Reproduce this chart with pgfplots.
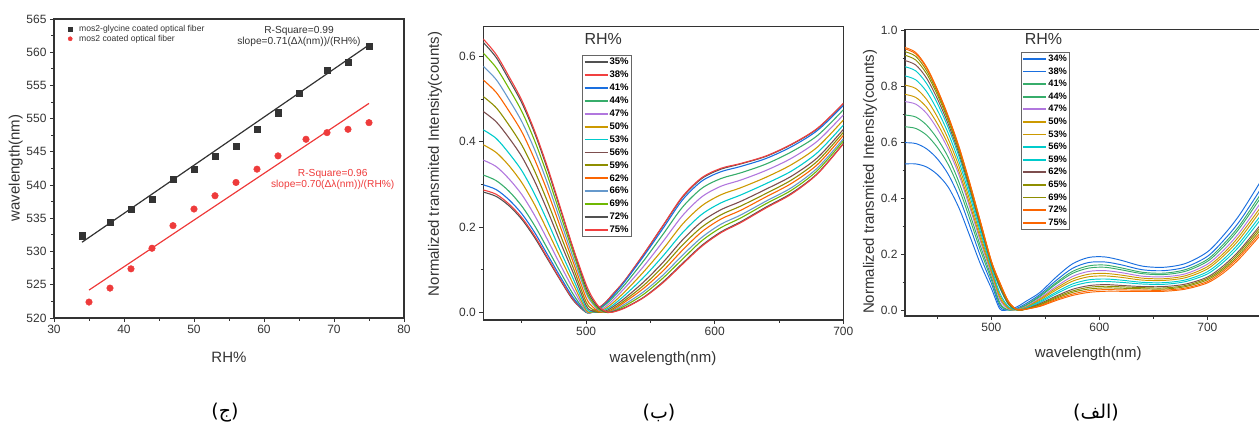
\documentclass[border=0pt]{standalone}
\usepackage{fontspec}
\setmainfont{Liberation Sans}
\newfontfamily\arabicfont[Script=Arabic]{DejaVu Sans}
\TeXXeTstate=1
\usepackage{pgfplots}
\usepackage{pgfplotstable}
\pgfplotsset{compat=1.18}

\definecolor{cgray}{HTML}{515151}
\definecolor{cred}{HTML}{F14040}
\definecolor{cblue}{HTML}{1A6FDF}
\definecolor{cgreen}{HTML}{37AD6B}
\definecolor{cviolet}{HTML}{B177DE}
\definecolor{cgold}{HTML}{CC9900}
\definecolor{ccyan}{HTML}{00CBCC}
\definecolor{cbrown}{HTML}{7D4E4E}
\definecolor{colive}{HTML}{8E8E00}
\definecolor{corange}{HTML}{FB6501}
\definecolor{clblue}{HTML}{6699CC}
\definecolor{clime}{HTML}{6FB802}
\definecolor{axgray}{HTML}{333333}
\definecolor{dotred}{HTML}{EE3B3B}

% middle panel: spectra 35% ... 75%
\pgfplotstableread{
x c0 c1 c2 c3 c4 c5 c6 c7 c8 c9 c10 c11 c12 c13
420 0.282 0.287 0.299 0.322 0.357 0.393 0.428 0.471 0.506 0.545 0.577 0.608 0.633 0.641
430 0.272 0.277 0.288 0.309 0.342 0.375 0.408 0.447 0.480 0.516 0.546 0.574 0.598 0.605
440 0.250 0.254 0.264 0.284 0.313 0.344 0.373 0.409 0.439 0.472 0.499 0.525 0.546 0.553
450 0.218 0.222 0.231 0.249 0.276 0.304 0.332 0.365 0.392 0.423 0.447 0.471 0.491 0.497
460 0.175 0.179 0.187 0.203 0.227 0.252 0.277 0.307 0.331 0.358 0.381 0.402 0.420 0.425
470 0.125 0.128 0.135 0.149 0.170 0.191 0.213 0.238 0.259 0.283 0.302 0.320 0.335 0.340
480 0.075 0.077 0.083 0.094 0.111 0.128 0.144 0.164 0.181 0.200 0.215 0.229 0.241 0.245
490 0.028 0.030 0.034 0.042 0.054 0.066 0.078 0.092 0.104 0.117 0.128 0.139 0.147 0.150
500 0.000 0.000 0.000 0.000 0.002 0.005 0.010 0.016 0.024 0.034 0.045 0.051 0.058 0.065
505 0.003 0.003 0.002 0.001 0.000 0.000 0.001 0.003 0.007 0.013 0.020 0.024 0.029 0.034
510 0.011 0.011 0.009 0.007 0.004 0.002 0.001 0.000 0.000 0.002 0.005 0.007 0.010 0.013
515 0.023 0.023 0.020 0.018 0.013 0.009 0.006 0.003 0.001 0.000 0.000 0.000 0.001 0.002
520 0.040 0.040 0.036 0.032 0.026 0.020 0.015 0.011 0.007 0.004 0.002 0.001 0.001 0.000
530 0.074 0.075 0.072 0.065 0.057 0.048 0.040 0.033 0.028 0.024 0.019 0.015 0.011 0.010
545 0.137 0.138 0.133 0.122 0.109 0.096 0.083 0.072 0.064 0.057 0.049 0.043 0.036 0.035
560 0.204 0.205 0.198 0.184 0.167 0.149 0.133 0.118 0.108 0.098 0.088 0.081 0.072 0.070
575 0.270 0.272 0.264 0.247 0.227 0.207 0.187 0.170 0.158 0.146 0.134 0.125 0.115 0.113
590 0.314 0.316 0.308 0.291 0.271 0.250 0.230 0.213 0.200 0.189 0.176 0.168 0.157 0.155
605 0.336 0.338 0.330 0.314 0.296 0.276 0.257 0.241 0.229 0.219 0.207 0.199 0.189 0.187
620 0.348 0.349 0.342 0.327 0.310 0.292 0.275 0.260 0.249 0.239 0.228 0.221 0.212 0.210
640 0.366 0.367 0.361 0.348 0.333 0.317 0.302 0.289 0.279 0.271 0.261 0.255 0.247 0.245
660 0.394 0.395 0.389 0.377 0.362 0.347 0.332 0.320 0.311 0.303 0.293 0.287 0.280 0.278
680 0.431 0.432 0.427 0.415 0.402 0.388 0.375 0.363 0.355 0.347 0.339 0.333 0.326 0.325
700 0.489 0.490 0.485 0.475 0.463 0.451 0.439 0.429 0.422 0.415 0.407 0.402 0.396 0.395
}\tabB

% right panel: spectra 34% ... 75%
\pgfplotstableread{
x c0 c1 c2 c3 c4 c5 c6 c7 c8 c9 c10 c11 c12 c13
420 0.523 0.599 0.656 0.698 0.746 0.772 0.805 0.838 0.871 0.893 0.912 0.925 0.935 0.940
430 0.523 0.596 0.650 0.691 0.737 0.761 0.793 0.824 0.856 0.877 0.895 0.908 0.917 0.922
440 0.512 0.577 0.626 0.662 0.704 0.726 0.754 0.782 0.811 0.830 0.846 0.857 0.866 0.870
450 0.485 0.541 0.582 0.613 0.648 0.667 0.691 0.715 0.740 0.756 0.770 0.779 0.786 0.790
460 0.440 0.486 0.521 0.547 0.576 0.592 0.612 0.633 0.653 0.666 0.678 0.686 0.692 0.695
470 0.365 0.405 0.435 0.457 0.483 0.496 0.514 0.531 0.549 0.560 0.570 0.577 0.582 0.585
480 0.265 0.300 0.326 0.345 0.367 0.378 0.393 0.409 0.424 0.434 0.442 0.448 0.453 0.455
490 0.163 0.191 0.212 0.227 0.244 0.254 0.266 0.278 0.290 0.298 0.305 0.310 0.313 0.315
500 0.077 0.095 0.108 0.118 0.129 0.136 0.143 0.151 0.159 0.164 0.168 0.172 0.174 0.175
508 0.003 0.011 0.019 0.024 0.036 0.043 0.051 0.059 0.077 0.080 0.087 0.090 0.095 0.097
516 0.002 0.000 0.000 0.000 0.003 0.005 0.008 0.011 0.019 0.020 0.024 0.025 0.029 0.030
524 0.012 0.007 0.004 0.003 0.002 0.001 0.001 0.000 0.000 0.000 0.000 0.000 0.001 0.001
532 0.031 0.023 0.018 0.016 0.012 0.010 0.008 0.007 0.004 0.004 0.003 0.003 0.003 0.003
545 0.063 0.056 0.051 0.048 0.043 0.039 0.035 0.031 0.027 0.023 0.020 0.018 0.015 0.013
560 0.118 0.106 0.098 0.093 0.084 0.078 0.072 0.064 0.058 0.050 0.046 0.042 0.038 0.034
575 0.165 0.149 0.138 0.131 0.120 0.111 0.103 0.093 0.085 0.074 0.068 0.063 0.057 0.052
590 0.188 0.170 0.158 0.150 0.138 0.128 0.119 0.108 0.099 0.087 0.081 0.075 0.069 0.063
605 0.190 0.172 0.161 0.153 0.141 0.131 0.122 0.111 0.102 0.091 0.085 0.079 0.073 0.067
620 0.178 0.162 0.151 0.144 0.134 0.125 0.117 0.107 0.099 0.088 0.083 0.078 0.072 0.067
640 0.157 0.144 0.135 0.130 0.121 0.114 0.107 0.099 0.093 0.084 0.080 0.076 0.071 0.067
660 0.153 0.141 0.132 0.127 0.119 0.112 0.106 0.098 0.092 0.084 0.079 0.075 0.071 0.067
680 0.167 0.154 0.145 0.139 0.130 0.123 0.116 0.108 0.102 0.093 0.088 0.084 0.079 0.075
700 0.208 0.192 0.181 0.174 0.164 0.155 0.147 0.137 0.129 0.118 0.113 0.108 0.102 0.097
715 0.268 0.249 0.236 0.227 0.214 0.203 0.194 0.182 0.172 0.159 0.152 0.146 0.140 0.133
730 0.342 0.319 0.304 0.294 0.279 0.267 0.255 0.242 0.230 0.215 0.208 0.200 0.193 0.185
750 0.465 0.437 0.419 0.406 0.388 0.372 0.359 0.342 0.328 0.309 0.300 0.291 0.281 0.272
}\tabA

\pgfplotsset{
  origin/.style={
    scale only axis, anchor=south west,
    axis line style={axgray, line width=1.1pt},
    tick style={axgray, line width=0.9pt},
    tick align=outside, tick pos=left,
    major tick length=4pt, minor tick length=2.5pt,
    tick label style={font=\fontsize{12}{14}\selectfont, text=axgray},
    /pgf/number format/assume math mode=true,
    label style={font=\fontsize{15}{17}\selectfont, text=axgray},
  },
  spec/.style={smooth, line width=1.1pt},
  speclegend/.style={
    legend cell align=left,
    legend image code/.code={\draw[##1, line width=1.8pt] (0pt,0pt) -- (23pt,0pt);},
    legend style={anchor=north west, draw=gray!80!black, line width=0.8pt,
      fill=white, inner sep=1.5pt, row sep=2.4pt,
      font=\fontsize{9.5}{11}\selectfont\bfseries,
      nodes={inner sep=1pt, text height=7pt, text depth=1.5pt}},
  },
}

\begin{document}
\begin{tikzpicture}

% ---- left panel (ج)
\begin{axis}[origin, at={(54pt,111pt)}, width=350pt, height=299pt,
  xmin=30, xmax=80, ymin=520, ymax=565,
  xtick={30,40,...,80}, minor xtick={35,45,...,75},
  ytick={520,525,...,565}, minor ytick={522.5,527.5,...,562.5},
  xlabel={RH\%}, ylabel={wavelength(nm)},
  xlabel style={at={(axis description cs:0.5,-0.13)}, anchor=center},
  ylabel style={at={(axis description cs:-0.109,0.502)}, anchor=center},
  legend cell align=left,
  legend image code/.code={\path[draw=none] (0pt,0pt) -- (14pt,0pt);
    \draw[#1, only marks, mark size=2.1pt] plot coordinates {(6pt,0pt)};},
  legend style={at={(0.02,0.99)}, anchor=north west, draw=none, fill=none,
    font=\fontsize{8.6}{10}\selectfont, text=axgray, row sep=0pt,
    nodes={inner sep=1pt}},
]
\addplot[axgray, line width=1.2pt, forget plot] coordinates {(34,531.4) (75,561.1)};
\addplot[dotred, line width=1.2pt, forget plot] coordinates {(35,524.2) (75,552.3)};
\addplot[only marks, mark=square*, mark size=3.1pt, color=axgray] coordinates {
  (34,532.4) (38,534.4) (41,536.4) (44,537.9) (47,540.9) (50,542.4) (53,544.4)
  (56,545.9) (59,548.4) (62,550.9) (65,553.8) (69,557.3) (72,558.5) (75,560.9)};
\addlegendentry{mos2-glycine coated optical fiber}
\addplot[only marks, mark=*, mark size=3.3pt, color=dotred] coordinates {
  (35,522.4) (38,524.5) (41,527.4) (44,530.5) (47,533.9) (50,536.4) (53,538.4)
  (56,540.4) (59,542.4) (62,544.4) (66,546.9) (69,547.9) (72,548.4) (75,549.4)};
\addlegendentry{mos2 coated optical fiber}
\end{axis}
\node[font=\fontsize{10.2}{12}\selectfont, text=axgray, align=center] at (299pt,393pt)
  {R-Square=0.99\\[-1pt]slope=0.71(Δλ(nm))/(RH\%)};
\node[font=\fontsize{10.2}{12}\selectfont, text=dotred, align=center] at (332.7pt,249.3pt)
  {R-Square=0.96\\[-1pt]slope=0.70(Δλ(nm))/(RH\%)};

% ---- middle panel (ب)
\begin{axis}[origin, speclegend, at={(483.3pt,109pt)}, width=360pt, height=293.3pt,
  xmin=420, xmax=700, ymin=-0.018, ymax=0.670,
  xtick={500,600,700}, minor xtick={450,550,650},
  ytick={0,0.2,0.4,0.6}, minor ytick={0.1,0.3,0.5},
  yticklabel style={/pgf/number format/.cd, fixed, fixed zerofill, precision=1},
  xlabel={wavelength(nm)}, ylabel={Normalized transmited Intensity(counts)},
  xlabel style={at={(axis description cs:0.499,-0.13)}, anchor=center},
  ylabel style={at={(axis description cs:-0.134,0.532)}, anchor=center},
  legend style={at={(0.274,0.9035)}},
]
\addplot[spec, cgray]   table[x=x, y=c0]  {\tabB}; \addlegendentry{35\%}
\addplot[spec, cred]    table[x=x, y=c1]  {\tabB}; \addlegendentry{38\%}
\addplot[spec, cblue]   table[x=x, y=c2]  {\tabB}; \addlegendentry{41\%}
\addplot[spec, cgreen]  table[x=x, y=c3]  {\tabB}; \addlegendentry{44\%}
\addplot[spec, cviolet] table[x=x, y=c4]  {\tabB}; \addlegendentry{47\%}
\addplot[spec, cgold]   table[x=x, y=c5]  {\tabB}; \addlegendentry{50\%}
\addplot[spec, ccyan]   table[x=x, y=c6]  {\tabB}; \addlegendentry{53\%}
\addplot[spec, cbrown]  table[x=x, y=c7]  {\tabB}; \addlegendentry{56\%}
\addplot[spec, colive]  table[x=x, y=c8]  {\tabB}; \addlegendentry{59\%}
\addplot[spec, corange] table[x=x, y=c9]  {\tabB}; \addlegendentry{62\%}
\addplot[spec, clblue]  table[x=x, y=c10] {\tabB}; \addlegendentry{66\%}
\addplot[spec, clime]   table[x=x, y=c11] {\tabB}; \addlegendentry{69\%}
\addplot[spec, cgray]   table[x=x, y=c12] {\tabB}; \addlegendentry{72\%}
\addplot[spec, cred]    table[x=x, y=c13] {\tabB}; \addlegendentry{75\%}
\node[font=\fontsize{16}{18}\selectfont, text=axgray] at (rel axis cs:0.333,0.957) {RH\%};
\end{axis}

% ---- right panel (الف)
\begin{axis}[origin, speclegend, at={(905pt,113pt)}, width=367.2pt, height=286.7pt,
  xmin=420, xmax=760, ymin=-0.0215, ymax=1.005,
  xtick={500,600,700}, minor xtick={450,550,650,750},
  ytick={0,0.2,...,1}, minor ytick={0.1,0.3,0.5,0.7,0.9},
  yticklabel style={/pgf/number format/.cd, fixed, fixed zerofill, precision=1},
  xlabel={wavelength(nm)}, ylabel={Normalized transmited Intensity(counts)},
  xlabel style={at={(axis description cs:0.499,-0.1325)}, anchor=center},
  ylabel style={at={(axis description cs:-0.0953,0.468)}, anchor=center},
  legend style={at={(0.315,0.922)}, row sep=2.1pt, font=\fontsize{9.3}{11}\selectfont\bfseries},
  spec/.style={smooth, line width=0.95pt},
]
\addplot[spec, cblue]   table[x=x, y=c0]  {\tabA}; \addlegendentry{34\%}
\addplot[spec, cblue]   table[x=x, y=c1]  {\tabA}; \addlegendentry{38\%}
\addplot[spec, cgreen]  table[x=x, y=c2]  {\tabA}; \addlegendentry{41\%}
\addplot[spec, cgreen]  table[x=x, y=c3]  {\tabA}; \addlegendentry{44\%}
\addplot[spec, cviolet] table[x=x, y=c4]  {\tabA}; \addlegendentry{47\%}
\addplot[spec, cgold]   table[x=x, y=c5]  {\tabA}; \addlegendentry{50\%}
\addplot[spec, cgold]   table[x=x, y=c6]  {\tabA}; \addlegendentry{53\%}
\addplot[spec, ccyan]   table[x=x, y=c7]  {\tabA}; \addlegendentry{56\%}
\addplot[spec, ccyan]   table[x=x, y=c8]  {\tabA}; \addlegendentry{59\%}
\addplot[spec, cbrown]  table[x=x, y=c9]  {\tabA}; \addlegendentry{62\%}
\addplot[spec, colive]  table[x=x, y=c10] {\tabA}; \addlegendentry{65\%}
\addplot[spec, colive]  table[x=x, y=c11] {\tabA}; \addlegendentry{69\%}
\addplot[spec, corange] table[x=x, y=c12] {\tabA}; \addlegendentry{72\%}
\addplot[spec, corange] table[x=x, y=c13] {\tabA}; \addlegendentry{75\%}
\node[font=\fontsize{16}{18}\selectfont, text=axgray] at (rel axis cs:0.377,0.965) {RH\%};
\end{axis}

% captions
\node[font=\fontsize{19}{22}\selectfont] at (225pt,16pt) {\arabicfont\beginR(ج)\endR};
\node[font=\fontsize{19}{22}\selectfont] at (659pt,16pt) {\arabicfont\beginR(ب)\endR};
\node[font=\fontsize{19}{22}\selectfont] at (1096pt,16pt) {\arabicfont\beginR(الف)\endR};

\pgfresetboundingbox
\path[use as bounding box] (0,0) rectangle (1259pt,429pt);
\end{tikzpicture}
\end{document}
